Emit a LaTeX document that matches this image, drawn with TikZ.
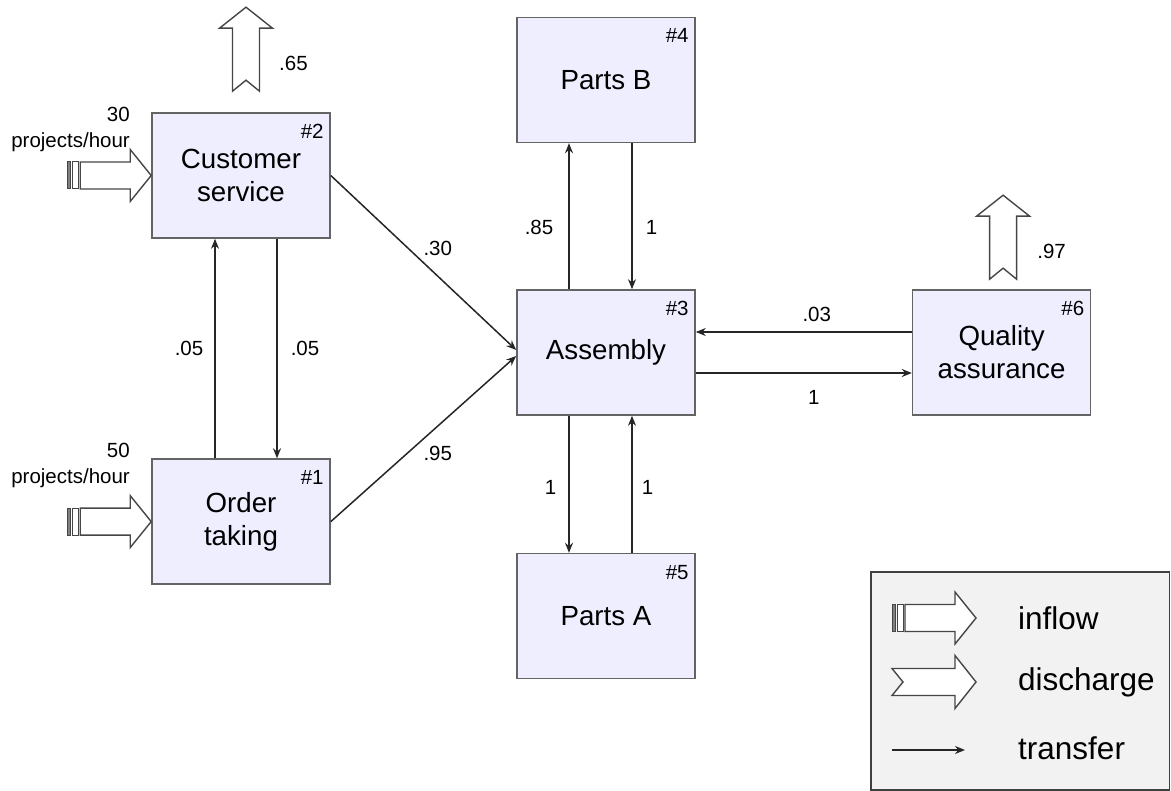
\documentclass[tikz,border=0pt]{standalone}
\usepackage{fontspec}
\setmainfont{Liberation Sans}
\usetikzlibrary{arrows.meta,positioning}

\definecolor{boxfill}{RGB}{238,238,255}
\definecolor{boxline}{RGB}{100,100,100}
\definecolor{legfill}{RGB}{242,242,242}
\definecolor{flowline}{RGB}{70,70,70}

\tikzset{
  unit/.style={draw=boxline,fill=boxfill,line width=1.6pt,minimum width=178pt,minimum height=125pt,
    align=center,font=\fontsize{27.7}{33}\selectfont},
  tag/.style={inner sep=0pt,font=\fontsize{20.5}{24}\selectfont},
  rate/.style={inner sep=3pt,font=\fontsize{20.5}{24}\selectfont},
  transfer/.style={->,line width=1.5pt,draw=black!85},
  legtext/.style={anchor=west,inner sep=2pt,font=\fontsize{31.5}{36}\selectfont},
  pics/inflow/.style={code={
    \draw[flowline,line width=1.4pt,fill=white,line join=miter]
      (-71,-13.5) -- (-21,-13.5) -- (-21,-26) -- (0,0) -- (-21,26) -- (-21,13.5) -- (-71,13.5) -- cycle;
    \draw[flowline,line width=1pt,fill=gray] (-84,-13.5) rectangle (-81,13.5);
    \draw[flowline,line width=1pt,fill=white] (-79,-13.5) rectangle (-73,13.5);
  }},
  pics/discharge/.style={code={
    \draw[flowline,line width=1.4pt,fill=white,line join=miter]
      (-84,-13.5) -- (-21,-13.5) -- (-21,-26.5) -- (0,0) -- (-21,26.5) -- (-21,13.5) -- (-84,13.5) -- (-73,0) -- cycle;
  }},
}

\begin{document}
\begin{tikzpicture}[>={Stealth[length=10pt,width=8pt]},x=1pt,y=-1pt]
  \useasboundingbox (0,0) rectangle (1171,791);
  % stations
  \node (cs) [unit] at (241,175.5) {Customer\\service};
  \node (ot) [unit,below=219.5pt of cs] {Order\\taking};
  \node (asm) [unit] at (606,352.5) {Assembly};
  \node (pb) [unit,above=146pt of asm] {Parts B};
  \node (pa) [unit,below=137pt of asm] {Parts A};
  \node (qa) [unit,right=216pt of asm] {Quality\\assurance};
  \node (ot_no) [tag,anchor=north east] at ([shift={(-7,12)}]ot.north east) {\#1};
  \node (cs_no) [tag,anchor=north east] at ([shift={(-7,12)}]cs.north east) {\#2};
  \node (asm_no) [tag,anchor=north east] at ([shift={(-7,12)}]asm.north east) {\#3};
  \node (pb_no) [tag,anchor=north east] at ([shift={(-7,12)}]pb.north east) {\#4};
  \node (pa_no) [tag,anchor=north east] at ([shift={(-7,12)}]pa.north east) {\#5};
  \node (qa_no) [tag,anchor=north east] at ([shift={(-7,12)}]qa.north east) {\#6};

  % transfers
  \draw[transfer] ([xshift=-26pt]ot.north) -- node[rate,left=8pt]{.05} ([xshift=-26pt]cs.south);
  \draw[transfer] ([xshift=36pt]cs.south) -- node[rate,right=10pt]{.05} ([xshift=36pt]ot.north);
  \draw[transfer] (cs.east) -- node[rate,pos=0.48,above right]{.30} ([yshift=2.5pt]asm.west);
  \draw[transfer] (ot.east) -- node[rate,pos=0.48,below right]{.95} ([yshift=-3.5pt]asm.west);
  \draw[transfer] ([xshift=-37pt]asm.north) -- node[rate,pos=0.425,left=12pt]{.85} ([xshift=-37pt]pb.south);
  \draw[transfer] ([xshift=26pt]pb.south) -- node[rate,pos=0.575,right=10pt]{1} ([xshift=26pt]asm.north);
  \draw[transfer] ([xshift=-37pt]asm.south) -- node[rate,pos=0.525,left=9pt]{1} ([xshift=-37pt]pa.north);
  \draw[transfer] ([xshift=26pt]pa.north) -- node[rate,pos=0.474,right=6pt]{1} ([xshift=26pt]asm.south);
  \draw[transfer] ([yshift=20.5pt]qa.west) -- node[rate,pos=0.44,above=7pt]{.03} ([yshift=20.5pt]asm.east);
  \draw[transfer] ([yshift=-20.5pt]asm.east) -- node[rate,pos=0.546,below=14pt]{1} ([yshift=-20.5pt]qa.west);

  % inflows and discharges
  \pic at (cs.west) {inflow};
  \pic at (ot.west) {inflow};
  \node (cs_in) [rate,anchor=east,align=right,font=\fontsize{20.5}{26}\selectfont] at (133,129) {30\\projects/hour};
  \node (ot_in) [rate,anchor=east,align=right,font=\fontsize{20.5}{26}\selectfont] at (133,465.5) {50\\projects/hour};
  \pic[rotate=90] at ([xshift=5pt,yshift=105pt]cs.north) {discharge};
  \node (cs_out) [rate,anchor=west] at ([xshift=35pt,yshift=49pt]cs.north) {.65};
  \pic[rotate=90] at ([xshift=1.5pt,yshift=94pt]qa.north) {discharge};
  \node (qa_out) [rate,anchor=west] at ([xshift=32.5pt,yshift=38pt]qa.north) {.97};

  % legend
  \draw[draw=black!75,fill=legfill,line width=1.5pt] (871,572) rectangle (1169.5,790);
  \pic at (976,618) {inflow};
  \node (lg_in) [legtext] at (1016,618) {inflow};
  \pic at (976,682) {discharge};
  \node (lg_dis) [legtext] at (1016,682) {discharge};
  \coordinate (lg_a) at (892,750);
  \coordinate (lg_b) at (965,750);
  \draw[transfer] (lg_a) -- (lg_b);
  \node (lg_tr) [legtext] at (1016,748) {transfer};
\end{tikzpicture}
\end{document}
